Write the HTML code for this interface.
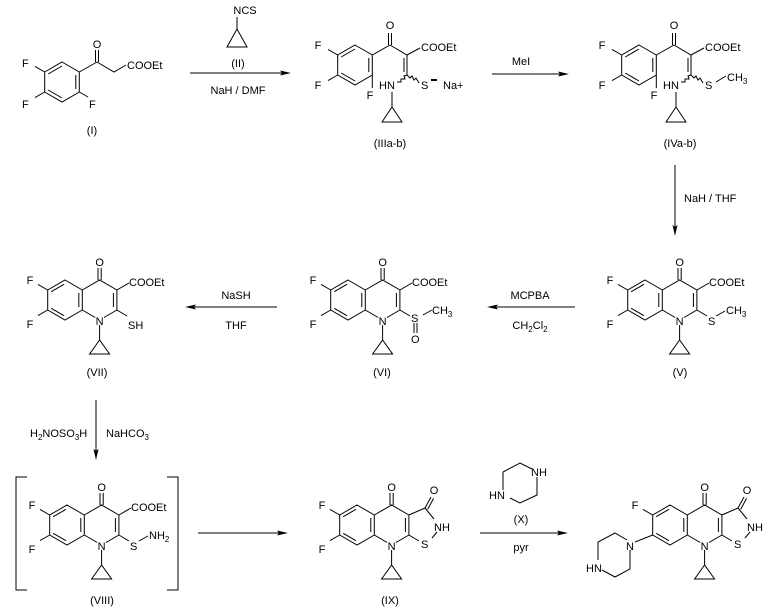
<!DOCTYPE html>
<html><head><meta charset="utf-8"><style>
html,body{margin:0;padding:0;background:#fff;}
svg{display:block;}
text{font-family:"Liberation Sans",Arial,sans-serif;font-size:11px;fill:#000;}
.b{stroke:#000;stroke-width:1;fill:none;}
.m{text-anchor:middle;}
</style></head><body>
<svg width="767" height="607" viewBox="0 0 767 607" xmlns="http://www.w3.org/2000/svg">

<!-- ===== Compound I ===== -->
<g>
<path class="b" d="M62,62L79.3,72L79.3,92L62,102L44.7,92L44.7,72Z M48.2,74L62,66 M75.8,75L75.8,89 M48.2,90L62,98 M44.7,72L35,66.4 M44.7,92L35,97.6 M79.3,92L88,97 M79.3,72L97,62 M95.5,62L95.5,50 M98.5,62L98.5,50 M97,62L114,72L126,65"/>
<text x="22" y="67">F</text><text x="22" y="108">F</text><text x="89" y="108">F</text>
<text x="97" y="48" class="m">O</text><text x="127" y="69">COOEt</text>
<text x="92" y="134" class="m">(I)</text>
</g>

<!-- Reagent II + arrow 1 -->
<text x="245" y="14" class="m">NCS</text>
<path class="b" d="M237,17L237,29 M237,29L227,47L247,47Z"/>
<text x="238" y="67" class="m">(II)</text>
<line class="b" x1="190" y1="73" x2="284" y2="73"/><polygon points="291,73 280,70.5 282,73 280,75.5"/>
<text x="238" y="94" class="m">NaH / DMF</text>

<!-- ===== IIIa-b ===== -->
<g>
<path class="b" d="M355,45L372.3,55L372.3,75L355,85L337.7,75L337.7,55Z M341.2,57L355,49 M368.8,58L368.8,72 M341.2,73L355,81 M337.7,55L328,49.4 M337.7,75L328,80.6 M372.3,75L372.3,88 M372.3,55L390,45 M388.5,45L388.5,33 M391.5,45L391.5,33 M390,45L407,55L420,48 M407,55L407,75 M404,58L404,72 M392,92L392,107 M392,107L382,122L402,122Z"/>
<polyline class="b" points="407,75 404,76 405,79 401,79 401,82 397,82"/>
<polyline class="b" points="407,75 410,78 412,76 414,80 416,78 419,83"/>
<text x="318" y="49" class="m">F</text><text x="318" y="89" class="m">F</text><text x="370" y="99" class="m">F</text>
<text x="390" y="29" class="m">O</text><text x="421" y="51">COOEt</text>
<text x="379" y="89">HN</text><text x="421" y="89">S</text>
<line x1="431" y1="80" x2="437" y2="80" stroke="#000" stroke-width="2"/>
<text x="443" y="89">Na+</text>
<text x="390" y="147" class="m">(IIIa-b)</text>
</g>

<!-- arrow 2 -->
<text x="521" y="65" class="m">MeI</text>
<line class="b" x1="492" y1="74" x2="562" y2="74"/><polygon points="569,74 558,71.5 560,74 558,76.5"/>

<!-- ===== IVa-b ===== -->
<g transform="translate(284,0)">
<path class="b" d="M355,45L372.3,55L372.3,75L355,85L337.7,75L337.7,55Z M341.2,57L355,49 M368.8,58L368.8,72 M341.2,73L355,81 M337.7,55L328,49.4 M337.7,75L328,80.6 M372.3,75L372.3,88 M372.3,55L390,45 M388.5,45L388.5,33 M391.5,45L391.5,33 M390,45L407,55L420,48 M407,55L407,75 M404,58L404,72 M392,92L392,107 M392,107L382,122L402,122Z M432,82L442,76"/>
<polyline class="b" points="407,75 404,76 405,79 401,79 401,82 397,82"/>
<polyline class="b" points="407,75 410,78 412,76 414,80 416,78 419,83"/>
<text x="318" y="49" class="m">F</text><text x="318" y="89" class="m">F</text><text x="370" y="99" class="m">F</text>
<text x="390" y="29" class="m">O</text><text x="421" y="51">COOEt</text>
<text x="379" y="89">HN</text><text x="421" y="89">S</text>
<text x="443" y="81">CH<tspan font-size="8" dy="3">3</tspan></text>
</g>
<text x="680" y="147" class="m">(IVa-b)</text>

<!-- down arrow -->
<line class="b" x1="675" y1="165" x2="675" y2="229"/><polygon points="675,236 672.5,225 675,227 677.5,225"/>
<text x="684" y="202">NaH / THF</text>

<!-- ===== V ===== -->
<g transform="translate(645,300)">
<path class="b" d="M0,-20L17.3,-10L17.3,10L0,20L-17.3,10L-17.3,-10Z M-13.8,-8.3L-1,-15.7 M13.8,-7L13.8,7 M-13.8,8.3L-1,15.7 M17.3,-10L34.6,-20L51.9,-10L51.9,10L39,17.5 M30.2,17.5L17.3,10 M48.4,-7L48.4,7 M33,-20L33,-32 M36.2,-20L36.2,-32 M34.6,25L34.6,40 M34.6,40L24.6,54L44.6,54Z M-17.3,-10L-27,-15.6 M-17.3,10L-27,15.6 M51.9,-10L64,-17 M51.9,10L62,16 M71,16L80,11"/>
<text x="34.6" y="-34" class="m">O</text><text x="34.6" y="25" class="m">N</text>
<text x="-35" y="-16" class="m">F</text><text x="-35" y="28" class="m">F</text>
<text x="64" y="-14">COOEt</text><text x="63" y="25">S</text>
<text x="81" y="14">CH<tspan font-size="8" dy="3">3</tspan></text>
<text x="35" y="76" class="m">(V)</text>
</g>

<!-- MCPBA arrow -->
<line class="b" x1="494" y1="307" x2="575" y2="307"/><polygon points="487,307 498,304.5 496,307 498,309.5"/>
<text x="530" y="299" class="m">MCPBA</text>
<text x="530" y="329" class="m">CH<tspan font-size="8" dy="3">2</tspan><tspan dy="-3">Cl</tspan><tspan font-size="8" dy="3">2</tspan></text>

<!-- ===== VI ===== -->
<g transform="translate(348,300)">
<path class="b" d="M0,-20L17.3,-10L17.3,10L0,20L-17.3,10L-17.3,-10Z M-13.8,-8.3L-1,-15.7 M13.8,-7L13.8,7 M-13.8,8.3L-1,15.7 M17.3,-10L34.6,-20L51.9,-10L51.9,10L39,17.5 M30.2,17.5L17.3,10 M48.4,-7L48.4,7 M33,-20L33,-32 M36.2,-20L36.2,-32 M34.6,25L34.6,40 M34.6,40L24.6,54L44.6,54Z M-17.3,-10L-27,-15.6 M-17.3,10L-27,15.6 M51.9,-10L64,-17 M51.9,10L62,16 M75,15L84,10 M66,23L66,33 M69,23L69,33"/>
<text x="34.6" y="-34" class="m">O</text><text x="34.6" y="25" class="m">N</text>
<text x="-35" y="-16" class="m">F</text><text x="-35" y="28" class="m">F</text>
<text x="64" y="-14">COOEt</text><text x="63" y="22">S</text><text x="63" y="43">O</text>
<text x="84" y="14">CH<tspan font-size="8" dy="3">3</tspan></text>
<text x="34" y="76" class="m">(VI)</text>
</g>

<!-- NaSH arrow -->
<line class="b" x1="192" y1="307" x2="277" y2="307"/><polygon points="185,307 196,304.5 194,307 196,309.5"/>
<text x="236" y="299" class="m">NaSH</text>
<text x="236" y="329" class="m">THF</text>

<!-- ===== VII ===== -->
<g transform="translate(65,300)">
<path class="b" d="M0,-20L17.3,-10L17.3,10L0,20L-17.3,10L-17.3,-10Z M-13.8,-8.3L-1,-15.7 M13.8,-7L13.8,7 M-13.8,8.3L-1,15.7 M17.3,-10L34.6,-20L51.9,-10L51.9,10L39,17.5 M30.2,17.5L17.3,10 M48.4,-7L48.4,7 M33,-20L33,-32 M36.2,-20L36.2,-32 M34.6,25L34.6,40 M34.6,40L24.6,54L44.6,54Z M-17.3,-10L-27,-15.6 M-17.3,10L-27,15.6 M51.9,-10L64,-17 M51.9,10L62,16"/>
<text x="34.6" y="-34" class="m">O</text><text x="34.6" y="25" class="m">N</text>
<text x="-35" y="-16" class="m">F</text><text x="-35" y="28" class="m">F</text>
<text x="64" y="-14">COOEt</text><text x="63" y="29">SH</text>
<text x="32" y="76" class="m">(VII)</text>
</g>

<!-- down arrow VII->VIII -->
<line class="b" x1="96" y1="400" x2="96" y2="453"/><polygon points="96,460 93.5,449 96,451 98.5,449"/>
<text x="30" y="437">H<tspan font-size="8" dy="3">2</tspan><tspan dy="-3">NOSO</tspan><tspan font-size="8" dy="3">3</tspan><tspan dy="-3">H</tspan></text>
<text x="106" y="437">NaHCO<tspan font-size="8" dy="3">3</tspan></text>

<!-- brackets -->
<path class="b" d="M27,477L16,477L16,590L27,590 M167,477L178,477L178,590L167,590"/>

<!-- ===== VIII ===== -->
<g transform="translate(67,525)">
<path class="b" d="M0,-20L17.3,-10L17.3,10L0,20L-17.3,10L-17.3,-10Z M-13.8,-8.3L-1,-15.7 M13.8,-7L13.8,7 M-13.8,8.3L-1,15.7 M17.3,-10L34.6,-20L51.9,-10L51.9,10L39,17.5 M30.2,17.5L17.3,10 M48.4,-7L48.4,7 M33,-20L33,-32 M36.2,-20L36.2,-32 M34.6,25L34.6,40 M34.6,40L24.6,54L44.6,54Z M-17.3,-10L-27,-15.6 M-17.3,10L-27,15.6 M51.9,-10L64,-17 M51.9,10L62,16 M72,16L81,11"/>
<text x="34.6" y="-34" class="m">O</text><text x="34.6" y="25" class="m">N</text>
<text x="-35" y="-16" class="m">F</text><text x="-35" y="28" class="m">F</text>
<text x="64" y="-14">COOEt</text><text x="63" y="25">S</text>
<text x="82" y="14">NH<tspan font-size="8" dy="3">2</tspan></text>
<text x="35" y="79" class="m">(VIII)</text>
</g>

<!-- arrow VIII->IX -->
<line class="b" x1="198" y1="533" x2="281" y2="533"/><polygon points="288,533 277,530.5 279,533 277,535.5"/>

<!-- ===== IX ===== -->
<g transform="translate(357,525)">
<path class="b" d="M0,-20L17.3,-10L17.3,10L0,20L-17.3,10L-17.3,-10Z M-13.8,-8.3L-1,-15.7 M13.8,-7L13.8,7 M-13.8,8.3L-1,15.7 M17.3,-10L34.6,-20L51.9,-10L51.9,10L39,17.5 M30.2,17.5L17.3,10 M48.4,-7L48.4,7 M33,-20L33,-32 M36.2,-20L36.2,-32 M34.6,25L34.6,40 M34.6,40L24.6,54L44.6,54Z M-17.3,-10L-27,-15.6 M-17.3,10L-27,15.6 M51.9,-10L68,-17 M68,-17L74,-28 M70.6,-15.6L76.6,-26.6 M68,-17L77,-6 M80,7L75,13 M51.9,10L62,16"/>
<text x="34.6" y="-34" class="m">O</text><text x="34.6" y="25" class="m">N</text>
<text x="-35" y="-16" class="m">F</text><text x="-35" y="28" class="m">F</text>
<text x="77" y="-31" class="m">O</text><text x="77" y="6">NH</text><text x="64" y="23">S</text>
<text x="33" y="79" class="m">(IX)</text>
</g>

<!-- Reagent X + arrow -->
<path class="b" d="M503,472L520,463L532,469 M537,477L537,495L520,503L510,498 M503,490L503,472"/>
<text x="531" y="476">NH</text><text x="489" y="499">HN</text>
<text x="521" y="523" class="m">(X)</text>
<line class="b" x1="480" y1="533" x2="561" y2="533"/><polygon points="568,533 557,530.5 559,533 557,535.5"/>
<text x="521" y="551" class="m">pyr</text>

<!-- ===== Final product ===== -->
<g transform="translate(670,525)">
<path class="b" d="M0,-20L17.3,-10L17.3,10L0,20L-17.3,10L-17.3,-10Z M-13.8,-8.3L-1,-15.7 M13.8,-7L13.8,7 M-13.8,8.3L-1,15.7 M17.3,-10L34.6,-20L51.9,-10L51.9,10L39,17.5 M30.2,17.5L17.3,10 M48.4,-7L48.4,7 M33,-20L33,-32 M36.2,-20L36.2,-32 M34.6,25L34.6,40 M34.6,40L24.6,54L44.6,54Z M-17.3,-10L-27,-15.6 M-17.3,10L-35,17 M51.9,-10L68,-17 M68,-17L74,-28 M70.6,-15.6L76.6,-26.6 M68,-17L77,-6 M80,7L75,13 M51.9,10L62,16
M-43,15L-55,8L-72,17L-72,35 M-68,45L-55,52L-40,44L-40,25"/>
<text x="34.6" y="-34" class="m">O</text><text x="34.6" y="25" class="m">N</text>
<text x="-35" y="-16" class="m">F</text><text x="-40" y="25" class="m">N</text>
<text x="-84" y="47">HN</text>
<text x="77" y="-31" class="m">O</text><text x="77" y="6">NH</text><text x="64" y="23">S</text>
</g>

</svg>
</body></html>
